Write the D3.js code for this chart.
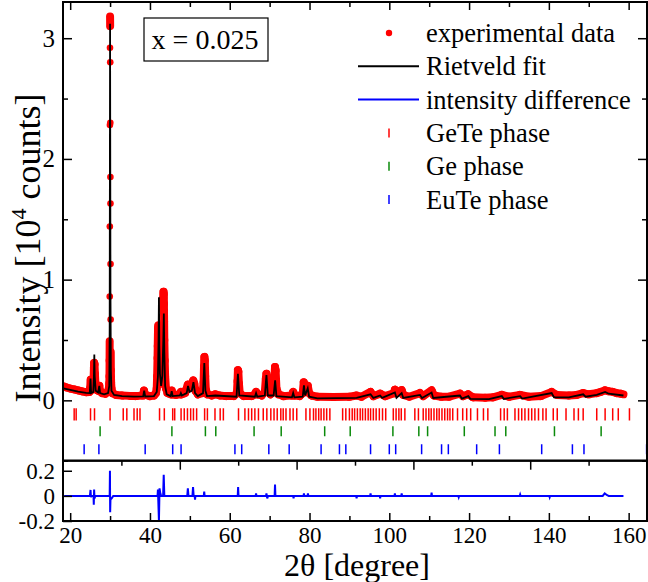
<!DOCTYPE html>
<html>
<head>
<meta charset="utf-8">
<script src="https://cdn.jsdelivr.net/npm/d3@7"></script>
<style>
body { margin: 0; background: white; }
text { font-family: "Liberation Serif", "Times New Roman", serif; fill: black; }
</style>
</head>
<body>
<div id="chart"></div>
<script>
// observed pattern [2theta, intensity in 10^4 counts]
const observed = [
  [18.3,0.118],[19,0.108],[20,0.098],[21,0.09],[22,0.082],[23,0.074],[24,0.068],[24.8,0.07],[25.0,0.1],[25.15,0.17],
  [25.3,0.09],[25.6,0.09],[25.85,0.15],[25.95,0.27],[26.02,0.31],[26.1,0.3],[26.2,0.22],[26.35,0.12],[26.6,0.09],[27.0,0.08],
  [27.3,0.12],[27.5,0.08],[28,0.06],[28.8,0.055],[29.4,0.07],[29.7,0.1],[29.8,0.14],[29.85,0.2],[29.88,0.33],[29.9,0.49],
  [29.92,0.86],[29.94,1.44],[29.96,2.28],[29.98,2.92],[30.0,3.18],[30.02,3.1],[30.04,2.8],[30.06,2.3],[30.08,1.85],[30.1,1.63],
  [30.12,1.13],[30.14,0.67],[30.17,0.4],[30.2,0.25],[30.26,0.15],[30.35,0.1],[30.6,0.06],[31.5,0.045],[33,0.04],[35,0.037],
  [36.5,0.035],[38.2,0.04],[38.5,0.08],[38.8,0.045],[40,0.035],[41.0,0.04],[41.5,0.06],[41.7,0.1],[41.8,0.2],[41.9,0.35],
  [41.95,0.45],[42.0,0.55],[42.05,0.6],[42.1,0.62],[42.15,0.58],[42.2,0.5],[42.25,0.45],[42.3,0.48],[42.4,0.38],[42.5,0.3],
  [42.6,0.22],[42.8,0.14],[43.0,0.2],[43.1,0.32],[43.2,0.5],[43.3,0.75],[43.35,0.85],[43.4,0.9],[43.45,0.88],[43.5,0.8],
  [43.55,0.65],[43.6,0.5],[43.7,0.33],[43.8,0.2],[44,0.1],[44.4,0.06],[45.2,0.05],[45.45,0.08],[45.7,0.05],[46.5,0.045],
  [47.5,0.05],[47.75,0.07],[48,0.05],[48.8,0.06],[49.2,0.1],[49.5,0.13],[49.7,0.12],[49.9,0.1],[50.2,0.11],[50.6,0.14],
  [50.85,0.165],[51.1,0.14],[51.4,0.08],[52,0.05],[53.2,0.06],[53.45,0.15],[53.55,0.28],[53.65,0.36],[53.75,0.33],[53.85,0.2],
  [54.0,0.09],[54.4,0.05],[55.5,0.04],[56.4,0.05],[57.5,0.04],[59,0.035],[61,0.035],[61.8,0.06],[61.95,0.16],[62.05,0.25],
  [62.15,0.24],[62.3,0.14],[62.5,0.06],[63.5,0.035],[65.5,0.035],[66.3,0.05],[66.6,0.07],[66.9,0.05],[68,0.04],[68.8,0.07],
  [69.05,0.18],[69.2,0.22],[69.35,0.2],[69.6,0.08],[70.2,0.05],[71.0,0.07],[71.2,0.18],[71.35,0.276],[71.5,0.25],[71.7,0.1],
  [72.2,0.05],[73.5,0.035],[75.5,0.04],[75.9,0.07],[76.3,0.04],[77.5,0.035],[78.3,0.06],[78.55,0.15],[78.75,0.13],[79.1,0.07],
  [79.55,0.12],[79.9,0.06],[80.5,0.04],[82,0.03],[86,0.028],[90,0.03],[91.8,0.04],[93,0.03],[95.3,0.07],[96,0.035],
  [97.7,0.055],[99,0.035],[101.2,0.06],[101.4,0.088],[101.7,0.06],[103.1,0.085],[103.5,0.045],[105,0.03],[107.7,0.06],[108.5,0.035],
  [110.6,0.083],[111.2,0.04],[113,0.03],[115,0.03],[117.7,0.055],[118.5,0.035],[119.8,0.05],[121,0.025],[124,0.022],[126,0.025],
  [128.2,0.045],[130,0.03],[132.8,0.045],[135,0.03],[138,0.035],[140.7,0.07],[142,0.045],[145,0.04],[147,0.045],[148.6,0.06],
  [150,0.05],[152,0.06],[153,0.07],[154.1,0.083],[155,0.075],[156,0.07],[157,0.06],[158,0.055],[158.7,0.05]
];

// Rietveld fit
const fitted = [
  [18.3,0.1],[20,0.087],[22,0.073],[24,0.062],[24.9,0.06],[25.1,0.18],[25.25,0.06],[25.8,0.07],[25.95,0.2],[26.05,0.38],
  [26.15,0.2],[26.4,0.08],[27.0,0.065],[27.3,0.12],[27.5,0.06],[28.5,0.05],[29.5,0.06],[29.8,0.12],[29.9,0.6],[29.96,2.0],
  [30.0,3.12],[30.04,2.2],[30.1,0.9],[30.2,0.25],[30.35,0.08],[31,0.045],[33,0.035],[36,0.03],[38.3,0.032],[38.55,0.08],
  [38.8,0.032],[41.0,0.035],[41.7,0.07],[42.0,0.2],[42.15,0.5],[42.25,0.855],[42.35,0.45],[42.5,0.22],[42.8,0.12],[43.1,0.2],
  [43.35,0.5],[43.48,0.72],[43.6,0.4],[43.8,0.12],[44.2,0.05],[45.2,0.035],[45.45,0.075],[45.7,0.035],[47.5,0.04],[47.75,0.06],
  [48,0.04],[49.2,0.06],[49.55,0.12],[49.9,0.07],[50.5,0.08],[50.9,0.15],[51.3,0.06],[52,0.035],[53.3,0.06],[53.62,0.31],
  [53.9,0.08],[54.3,0.035],[56.4,0.04],[61.7,0.03],[62.05,0.22],[62.4,0.04],[66.3,0.03],[66.6,0.06],[66.9,0.03],[68.8,0.04],
  [69.2,0.21],[69.55,0.04],[71.0,0.04],[71.38,0.165],[71.7,0.035],[75.6,0.025],[75.9,0.06],[76.2,0.025],[78.3,0.03],[78.6,0.125],
  [78.9,0.04],[79.55,0.1],[79.9,0.03],[82,0.016],[91.8,0.02],[95.3,0.05],[96,0.02],[97.7,0.04],[98.2,0.02],[101.4,0.065],
  [101.8,0.02],[103.1,0.06],[103.5,0.02],[107.7,0.045],[108.2,0.02],[110.6,0.065],[111,0.02],[117.7,0.04],[118.2,0.015],[119.8,0.035],
  [120.3,0.012],[125,0.01],[128.2,0.035],[128.7,0.012],[132.8,0.035],[133.3,0.015],[140.7,0.06],[141.3,0.025],[145,0.025],[148.6,0.05],
  [149.2,0.03],[152,0.045],[154.1,0.07],[155,0.055],[158.7,0.04]
];

// intensity difference (lower panel)
const difference = [
  [18.5,0],[24.95,0],[25.1,0.047],[25.2,-0.01],[25.3,0],[25.85,0],[25.92,-0.07],[26.0,0.05],[26.1,-0.02],[26.3,0],
  [29.9,0],[29.97,0.2],[30.02,-0.13],[30.1,-0.03],[30.4,-0.02],[30.8,0],[41.9,0],[42.0,0.05],[42.25,-0.2],[42.4,0.06],
  [42.6,0.02],[42.8,0],[43.3,0],[43.45,0.167],[43.6,0],[49.35,0],[49.5,0.06],[49.65,0],[50.65,0],[50.8,0.07],
  [50.95,0],[51.2,0],[51.3,-0.03],[51.4,0],[53.5,0],[53.6,0.035],[53.7,0],[62.0,0],[62.1,0.07],[62.2,0],
  [66.5,0],[66.6,0.02],[66.7,0],[69.1,0],[69.2,0.02],[69.4,-0.02],[69.6,0],[71.25,0],[71.35,0.09],[71.45,0],
  [75.9,0],[76,-0.02],[76.1,0],[78.5,0],[78.6,0.02],[78.7,0],[79.5,0],[79.6,0.02],[79.7,0],[91.7,0],
  [91.8,-0.02],[91.9,0],[95.2,0],[95.3,0.02],[95.4,0],[97.6,0],[97.7,-0.02],[97.8,0],[101.3,0],[101.4,0.02],
  [101.5,0],[103.0,0],[103.1,0.02],[103.2,0],[110.5,0],[110.6,0.025],[110.7,0],[117.3,0],[117.4,-0.01],[117.5,0],
  [132.7,0],[132.8,0.01],[132.9,0],[140.1,0],[140.2,-0.01],[140.3,0],[153.5,0],[154,0.02],[154.6,0.005],[155,0],
  [158.7,0]
];

// Bragg positions of each phase
const geTeTicks = [21.0,21.5,25.1,26.1,30.0,33.3,34.2,36.0,36.8,37.5,42.4,43.6,45.7,46.2,47.8,48.6,49.4,50.2,50.9,51.7,
  53.7,54.4,56.3,57.6,58.4,62.2,63.8,64.7,65.5,66.3,67.2,68.4,69.3,70.3,71.1,71.9,72.8,73.4,74.1,75.1,75.9,76.8,79.1,80.1,
  81.0,81.6,82.3,82.9,83.6,84.3,85.1,88.3,89.1,90.0,90.7,91.3,92.0,92.7,93.3,94.0,94.7,95.3,96.0,96.7,97.5,98.3,99.1,
  101.0,101.7,102.4,103.0,103.9,106.4,107.3,108.5,109.2,109.9,110.5,111.2,111.9,112.5,113.2,113.9,114.6,115.2,115.9,
  117.1,118.4,119.4,120.4,122.1,123.6,124.7,127.9,128.8,129.6,131.5,132.4,133.2,134.0,134.9,135.7,136.5,137.4,138.5,
  139.3,141.1,142.1,144.3,146.3,147.4,148.6,152.0,154.1,156.0,157.4,160.2];
const geTicks = [27.5,45.5,53.9,56.5,66.1,72.9,83.8,90.2,100.9,107.4,109.6,118.8,126.5,129.2,141.4,153.1];
const euTeTicks = [23.5,27.2,38.8,45.7,47.8,61.3,63.0,69.8,74.9,82.9,87.5,89.1,95.3,100.0,101.6,108.1,113.1,114.8,
  121.9,127.6,138.2,145.9,148.8,164.5];

const xTicks = [20,40,60,80,100,120,140,160];
const xMinorTicks = [30,50,70,90,110,130,150];
const yTicks = [0,1,2,3];
const yMinorTicks = [-0.5,0.5,1.5,2.5];
const diffTicks = [-0.2,0,0.2];
const lowerTopTicks = [40,60,80,100];
const lowerTopMinor = [30,50,70,90,110];
const legendLabels = ["experimental data","Rietveld fit","intensity difference","GeTe phase","Ge phase","EuTe phase"];
const sampleLabel = "x = 0.025";

const width = 648, height = 582;
const plotLeft = 63, plotRight = 647, plotTop = 2, split = 460.7, plotBottom = 521;

const svg = d3.select('#chart').append('svg')
  .attr('width', width).attr('height', height);

const x = d3.scaleLinear().domain([18.2, 164.6]).range([plotLeft, plotRight]);
const y = d3.scaleLinear().domain([-0.5, 3.3]).range([split, plotTop]);
const yd = d3.scaleLinear().domain([-0.2, 0.28]).range([plotBottom, split]);
// the top axis of the lower panel has its own (unlabelled) scale
const xLower = d3.scaleLinear().domain([20, 120]).range([plotLeft, plotRight]);

const red = '#ff0000', blue = '#0000ff', green = '#0a8a0a';

svg.append('clipPath').attr('id', 'clipMain').append('rect')
  .attr('x', plotLeft).attr('y', plotTop).attr('width', plotRight - plotLeft).attr('height', split - plotTop);
svg.append('clipPath').attr('id', 'clipDiff').append('rect')
  .attr('x', plotLeft).attr('y', split).attr('width', plotRight - plotLeft).attr('height', plotBottom - split);

// observed data: dense dots merge into a thick band except on the steepest flanks
const main = svg.append('g').attr('clip-path', 'url(#clipMain)');
const line = d3.line().x(d => x(d[0])).y(d => y(d[1]));
const bandSegments = d3.pairs(observed).filter(([a, b]) => Math.abs(y(a[1]) - y(b[1])) < 26);
main.selectAll('line.band').data(bandSegments).enter().append('line')
  .attr('class', 'band')
  .attr('x1', d => x(d[0][0])).attr('y1', d => y(d[0][1]))
  .attr('x2', d => x(d[1][0])).attr('y2', d => y(d[1][1]))
  .attr('stroke', red).attr('stroke-width', 8).attr('stroke-linecap', 'round');
main.selectAll('circle.obs').data(observed).enter().append('circle')
  .attr('class', 'obs')
  .attr('cx', d => x(d[0])).attr('cy', d => y(d[1])).attr('r', 3.3).attr('fill', red);
main.append('path').datum(fitted)
  .attr('d', line).attr('fill', 'none').attr('stroke', 'black').attr('stroke-width', 1.8);

// Bragg ticks
const phases = [
  { ticks: geTeTicks, colour: red, y0: -0.066, y1: -0.166 },
  { ticks: geTicks, colour: green, y0: -0.215, y1: -0.298 },
  { ticks: euTeTicks, colour: blue, y0: -0.364, y1: -0.447 }
];
phases.forEach(p => {
  main.selectAll(null).data(p.ticks).enter().append('line')
    .attr('x1', d => x(d)).attr('x2', d => x(d))
    .attr('y1', y(p.y0)).attr('y2', y(p.y1))
    .attr('stroke', p.colour).attr('stroke-width', 1.5);
});

// difference
svg.append('g').attr('clip-path', 'url(#clipDiff)')
  .append('path').datum(difference)
  .attr('d', d3.line().x(d => x(d[0])).y(d => yd(d[1])))
  .attr('fill', 'none').attr('stroke', blue).attr('stroke-width', 2);

// axes
function styleAxis(g, fontSize) {
  g.select('.domain').remove();
  g.selectAll('.tick line').attr('stroke', 'black').attr('stroke-width', 1.5);
  g.selectAll('.tick text').style('font-family', '"Liberation Serif", serif')
    .style('font-size', fontSize + 'px').attr('fill', 'black');
}
const noLabel = () => '';

svg.append('g').attr('transform', `translate(${plotLeft},0)`)
  .call(d3.axisLeft(y).tickValues(yTicks).tickSize(-9).tickPadding(8).tickFormat(d3.format('d')))
  .call(g => styleAxis(g, 25));
svg.append('g').attr('transform', `translate(${plotLeft},0)`)
  .call(d3.axisLeft(y).tickValues(yMinorTicks).tickSize(-5).tickFormat(noLabel))
  .call(g => styleAxis(g, 10));
svg.append('g').attr('transform', `translate(${plotRight},0)`)
  .call(d3.axisRight(y).tickValues(yTicks).tickSize(-9).tickFormat(noLabel))
  .call(g => styleAxis(g, 10));
svg.append('g').attr('transform', `translate(${plotRight},0)`)
  .call(d3.axisRight(y).tickValues(yMinorTicks).tickSize(-5).tickFormat(noLabel))
  .call(g => styleAxis(g, 10));
svg.append('g').attr('transform', `translate(0,${plotTop})`)
  .call(d3.axisTop(x).tickValues(xTicks).tickSize(-8).tickFormat(noLabel))
  .call(g => styleAxis(g, 10));
svg.append('g').attr('transform', `translate(0,${plotTop})`)
  .call(d3.axisTop(x).tickValues(xMinorTicks).tickSize(-5).tickFormat(noLabel))
  .call(g => styleAxis(g, 10));
svg.append('g').attr('transform', `translate(0,${split})`)
  .call(d3.axisTop(xLower).tickValues(lowerTopTicks).tickSize(-9).tickFormat(noLabel))
  .call(g => styleAxis(g, 10));
svg.append('g').attr('transform', `translate(0,${split})`)
  .call(d3.axisTop(xLower).tickValues(lowerTopMinor).tickSize(-5).tickFormat(noLabel))
  .call(g => styleAxis(g, 10));
svg.append('g').attr('transform', `translate(0,${plotBottom})`)
  .call(d3.axisBottom(x).tickValues(xTicks).tickSize(-8).tickPadding(6).tickFormat(d3.format('d')))
  .call(g => styleAxis(g, 23));
svg.append('g').attr('transform', `translate(0,${plotBottom})`)
  .call(d3.axisBottom(x).tickValues(xMinorTicks).tickSize(-5).tickFormat(noLabel))
  .call(g => styleAxis(g, 10));
svg.append('g').attr('transform', `translate(${plotLeft},0)`)
  .call(d3.axisLeft(yd).tickValues(diffTicks).tickSize(-9).tickPadding(8).tickFormat(d => d === 0 ? '0' : String(d)))
  .call(g => styleAxis(g, 23));

// frames
svg.append('rect').attr('x', plotLeft).attr('y', plotTop).attr('width', plotRight - plotLeft).attr('height', split - plotTop)
  .attr('fill', 'none').attr('stroke', 'black').attr('stroke-width', 2);
svg.append('rect').attr('x', plotLeft).attr('y', split).attr('width', plotRight - plotLeft).attr('height', plotBottom - split)
  .attr('fill', 'none').attr('stroke', 'black').attr('stroke-width', 2);

// axis titles
const yTitle = svg.append('text')
  .attr('transform', 'translate(40,248) rotate(-90)')
  .attr('text-anchor', 'middle').style('font-size', '36px');
yTitle.append('tspan').text('Intensity [10');
yTitle.append('tspan').attr('dy', -14).style('font-size', '22px').text('4');
yTitle.append('tspan').attr('dy', 14).text(' counts]');

svg.append('text').attr('x', 357).attr('y', 576)
  .attr('text-anchor', 'middle').style('font-size', '32px')
  .text('2θ [degree]');

// sample box
svg.append('rect').attr('x', 144).attr('y', 18).attr('width', 124).attr('height', 43)
  .attr('fill', 'white').attr('stroke', 'black').attr('stroke-width', 1.2);
svg.append('text').attr('x', 205).attr('y', 49).attr('text-anchor', 'middle')
  .style('font-size', '28px').text(sampleLabel);

// legend
const legend = svg.append('g');
const rowH = 33.3, row0 = 33;
legendLabels.forEach((label, i) => {
  const cy = row0 + i * rowH;
  legend.append('text').attr('x', 426).attr('y', cy + 9).style('font-size', '26.5px').text(label);
  if (i === 0) {
    legend.append('circle').attr('cx', 389).attr('cy', cy).attr('r', 3.2).attr('fill', red);
  } else if (i < 3) {
    legend.append('line').attr('x1', 358).attr('x2', 419).attr('y1', cy).attr('y2', cy)
      .attr('stroke', i === 1 ? 'black' : blue).attr('stroke-width', 2);
  } else {
    legend.append('line').attr('x1', 389).attr('x2', 389).attr('y1', cy - 4.5).attr('y2', cy + 4.5)
      .attr('stroke', phases[i - 3].colour).attr('stroke-width', 1.5);
  }
});
</script>
</body>
</html>
